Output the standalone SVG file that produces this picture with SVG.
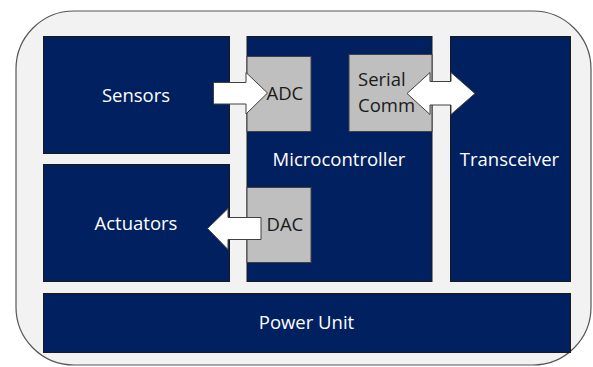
<svg xmlns="http://www.w3.org/2000/svg" width="593" height="367" viewBox="0 0 593 367">
<style>
.blk{fill:#002060;stroke:#1a1a1a;stroke-width:1}
.sub{fill:#bfbfbf;stroke:#404040;stroke-width:1}
.arr{fill:#ffffff;stroke:#404040;stroke-width:1;stroke-linejoin:miter}
.wt{font-family:"Open Sans","DejaVu Sans",sans-serif;font-size:18.5px;fill:#ffffff}
.bt{font-family:"Open Sans","DejaVu Sans",sans-serif;font-size:18.5px;fill:#1a1a1a}
</style>
<rect x="16" y="11" width="575" height="354" rx="58" ry="58" fill="#f2f2f2" stroke="#555555" stroke-width="1.2"/>
<g id="sensors">
<rect class="blk" x="43.5" y="36.5" width="186" height="117"/>
<text class="wt" x="136" y="101.5" text-anchor="middle">Sensors</text>
</g>
<g id="actuators">
<rect class="blk" x="43.5" y="164.5" width="186" height="117"/>
<text class="wt" x="136" y="230" text-anchor="middle">Actuators</text>
</g>
<g id="microcontroller">
<rect class="blk" x="247" y="36.5" width="185" height="245"/>
<text class="wt" x="339" y="165.5" text-anchor="middle">Microcontroller</text>
</g>
<g id="adc">
<rect class="sub" x="247" y="56.5" width="64" height="75"/>
<text class="bt" x="266.5" y="100">ADC</text>
</g>
<g id="serial">
<rect class="sub" x="349" y="54.5" width="83" height="77"/>
<text class="bt" x="358" y="85.5">Serial</text>
<text class="bt" x="358" y="111.5">Comm</text>
</g>
<g id="dac">
<rect class="sub" x="247" y="187.5" width="64" height="75"/>
<text class="bt" x="266.5" y="230.5">DAC</text>
</g>
<g id="transceiver">
<rect class="blk" x="450.5" y="36.5" width="120" height="245"/>
<text class="wt" x="509.5" y="165.5" text-anchor="middle">Transceiver</text>
</g>
<g id="power">
<rect class="blk" x="43.5" y="293.5" width="527" height="59"/>
<text class="wt" x="306.5" y="328.5" text-anchor="middle">Power Unit</text>
</g>
<g id="connectors">
<polygon class="arr" points="213.5,82.5 246,82.5 246,72.5 267.5,93 246,114 246,104 213.5,104"/>
<polygon class="arr" points="261,217.5 228,217.5 228,208.5 207.5,228.5 228,249.5 228,239.5 261,239.5"/>
<polygon class="arr" points="407,93.5 430,72.5 430,81.5 451,81.5 451,72.5 475,93.5 451,114.5 451,105 430,105 430,114.5"/>
</g>
</svg>
